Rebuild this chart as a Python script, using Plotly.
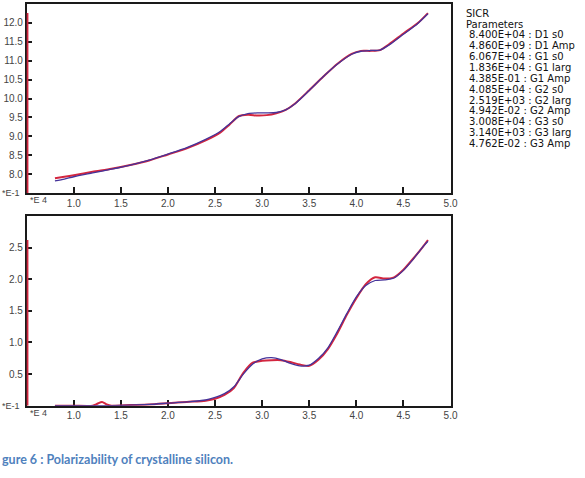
import plotly.graph_objects as go

# ---------------- data ----------------
x_top = [0.8, 0.9, 1.0, 1.2, 1.4, 1.6, 1.8, 2.0, 2.2, 2.4, 2.55, 2.65, 2.75, 2.85, 2.95,
         3.05, 3.15, 3.25, 3.35, 3.5, 3.65, 3.8, 3.95, 4.05, 4.15, 4.25, 4.35, 4.5, 4.65, 4.76]
top_blue = [7.82, 7.87, 7.93, 8.03, 8.13, 8.24, 8.37, 8.53, 8.70, 8.92, 9.12, 9.32, 9.52, 9.60, 9.62,
            9.62, 9.63, 9.70, 9.86, 10.21, 10.58, 10.91, 11.17, 11.25, 11.27, 11.28, 11.42, 11.70, 11.98, 12.24]
top_red = [7.89, 7.93, 7.97, 8.06, 8.14, 8.24, 8.36, 8.52, 8.68, 8.89, 9.09, 9.30, 9.53, 9.57, 9.55,
           9.56, 9.61, 9.70, 9.87, 10.22, 10.58, 10.92, 11.18, 11.26, 11.26, 11.28, 11.44, 11.72, 11.99, 12.26]

x_bot = [0.8, 1.0, 1.2, 1.25, 1.3, 1.35, 1.4, 1.6, 1.8, 2.0, 2.2, 2.4, 2.5, 2.6, 2.7, 2.8, 2.9, 3.0,
         3.1, 3.2, 3.3, 3.4, 3.5, 3.6, 3.7, 3.8, 3.9, 4.0, 4.1, 4.2, 4.3, 4.4, 4.5, 4.6, 4.7, 4.76]
bot_blue = [0, 0, 0, 0, 0, 0, 0, 0.01, 0.02, 0.04, 0.06, 0.09, 0.13, 0.19, 0.30, 0.50, 0.66, 0.74,
            0.76, 0.73, 0.67, 0.63, 0.64, 0.75, 0.92, 1.18, 1.46, 1.72, 1.90, 1.98, 1.99, 2.02, 2.14, 2.31, 2.50, 2.60]
bot_red = [0, 0, 0, 0.03, 0.06, 0.02, 0, 0.01, 0.02, 0.04, 0.06, 0.08, 0.11, 0.17, 0.28, 0.52, 0.68, 0.71,
           0.72, 0.72, 0.69, 0.65, 0.63, 0.73, 0.90, 1.15, 1.44, 1.70, 1.92, 2.03, 2.01, 2.03, 2.15, 2.32, 2.50, 2.62]

x_range = [0.5, 5.0]
top_range = [7.5, 12.5]
bot_range = [0.0, 3.0]
x_ticks = [1.0, 1.5, 2.0, 2.5, 3.0, 3.5, 4.0, 4.5, 5.0]
top_yticks = [8.0, 8.5, 9.0, 9.5, 10.0, 10.5, 11.0, 11.5, 12.0]
bot_yticks = [0.5, 1.0, 1.5, 2.0, 2.5]

params_title = ["SICR", "Parameters"]
params = ["8.400E+04 : D1 s0", "4.860E+09 : D1 Amp", "6.067E+04 : G1 s0", "1.836E+04 : G1 larg",
          "4.385E-01 : G1 Amp", "4.085E+04 : G2 s0", "2.519E+03 : G2 larg", "4.942E-02 : G2 Amp",
          "3.008E+04 : G3 s0", "3.140E+03 : G3 larg", "4.762E-02 : G3 Amp"]
caption = "gure 6 : Polarizability of crystalline silicon."

# ---------------- figure ----------------
W, H = 585, 478
RED = "#d3263f"
BLUE = "#45339a"
AX = "#1a1a1a"
FONT = "Liberation Sans, Arial, sans-serif"
PFONT = "DejaVu Sans, Verdana, sans-serif"

fig = go.Figure()
line_kw = dict(shape="spline", smoothing=0.7)

fig.add_trace(go.Scatter(x=x_top, y=top_red, mode="lines", line=dict(color=RED, width=2, **line_kw),
                         xaxis="x", yaxis="y", showlegend=False))
fig.add_trace(go.Scatter(x=x_top, y=top_blue, mode="lines", line=dict(color=BLUE, width=1.3, **line_kw),
                         xaxis="x", yaxis="y", showlegend=False))
fig.add_trace(go.Scatter(x=x_bot, y=bot_red, mode="lines", line=dict(color=RED, width=2, **line_kw),
                         xaxis="x2", yaxis="y2", showlegend=False))
fig.add_trace(go.Scatter(x=x_bot, y=bot_blue, mode="lines", line=dict(color=BLUE, width=1.3, **line_kw),
                         xaxis="x2", yaxis="y2", showlegend=False))

# red marker line along the left axis, from axis minimum up to the red curve maximum
fig.add_trace(go.Scatter(x=[x_range[0], x_range[0]], y=[top_range[0], max(top_red)], mode="lines",
                         line=dict(color=RED, width=3.5), cliponaxis=False, hoverinfo="skip",
                         xaxis="x", yaxis="y", showlegend=False))
fig.add_trace(go.Scatter(x=[x_range[0], x_range[0]], y=[bot_range[0], max(bot_red)], mode="lines",
                         line=dict(color=RED, width=3.5), cliponaxis=False, hoverinfo="skip",
                         xaxis="x2", yaxis="y2", showlegend=False))

xdom = [27 / W, 456 / W]
top_dom = [1 - 193 / H, 1 - 4 / H]
bot_dom = [1 - 405.7 / H, 1 - 216 / H]

axis_common = dict(showline=True, linecolor=AX, linewidth=1.5, mirror=True, ticks="inside",
                   ticklen=6, tickwidth=1.5, tickcolor=AX, showgrid=False, zeroline=False,
                   tickfont=dict(family=FONT, size=10, color="#444"), tickformat=".1f",
                   layer="below traces")

fig.update_layout(
    width=W, height=H, margin=dict(l=0, r=0, t=0, b=0),
    paper_bgcolor="white", plot_bgcolor="white", showlegend=False,
    xaxis=dict(domain=xdom, range=x_range, tickvals=x_ticks, anchor="y", **axis_common),
    yaxis=dict(domain=top_dom, range=top_range, tickvals=top_yticks, anchor="x", **axis_common),
    xaxis2=dict(domain=xdom, range=x_range, tickvals=x_ticks, anchor="y2", **axis_common),
    yaxis2=dict(domain=bot_dom, range=bot_range, tickvals=bot_yticks, anchor="x2", **axis_common),
)

ann = []
for ybot in (193, 405.7):
    ann.append(dict(text="*E-1", x=22 / W, y=1 - ybot / H, xref="paper", yref="paper",
                    xanchor="right", yanchor="middle", showarrow=False,
                    font=dict(family=FONT, size=9, color="#444")))
    ann.append(dict(text="*E 4", x=28 / W, y=1 - (ybot + 7) / H, xref="paper", yref="paper",
                    xanchor="left", yanchor="middle", showarrow=False,
                    font=dict(family=FONT, size=9, color="#444")))

ann.append(dict(text=params_title[0], x=470 / W, y=1 - 13.3 / H, xref="paper", yref="paper",
                xanchor="left", yanchor="middle", showarrow=False,
                font=dict(family=PFONT, size=10, color="#111")))
ann.append(dict(text=params_title[1], x=470 / W, y=1 - 24.3 / H, xref="paper", yref="paper",
                xanchor="left", yanchor="middle", showarrow=False,
                font=dict(family=PFONT, size=10, color="#111")))
for i, p in enumerate(params):
    ann.append(dict(text=p, x=473 / W, y=1 - (34.9 + i * 10.87) / H, xref="paper", yref="paper",
                    xanchor="left", yanchor="middle", showarrow=False,
                    font=dict(family=PFONT, size=10, color="#111")))

ann.append(dict(text="<b>" + caption + "</b>", x=0, y=1 - 459 / H, xref="paper", yref="paper",
                xanchor="left", yanchor="middle", showarrow=False,
                font=dict(family="Lato, Open Sans, sans-serif", size=12.5, color="#4f81bd")))
fig.update_layout(annotations=ann)

fig.write_html("out.html")
